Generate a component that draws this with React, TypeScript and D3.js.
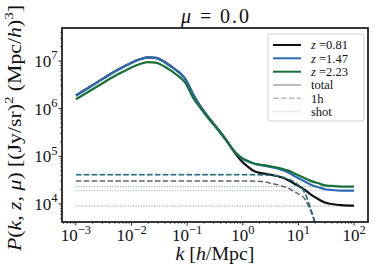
import React from 'react';
import * as d3 from 'd3';

// ---------- data ----------
const kValues = [
  1.0e-3, 1.8e-3, 3.18e-3, 5.58e-3, 9.82e-3, 1.377e-2, 1.936e-2, 2.716e-2, 3.81e-2, 5.35e-2,
  7.5e-2, 9.4e-2, 0.129, 0.166, 0.224, 0.291, 0.389, 0.512, 0.675, 0.902,
  1.183, 1.656, 2.223, 3.3, 4.91, 6.56, 8.63, 13.1, 17.0, 22.8,
  29.9, 39.5, 58.7, 100,
];

const totalZ081 = [
  1.888e6, 2.884e6, 4.365e6, 6.457e6, 9.12e6, 1.072e7, 1.189e7, 1.161e7, 9.77e6, 7.41e6,
  5.5e6, 4.07e6, 1.95e6, 1.2e6, 7.36e5, 5.01e5, 3.29e5, 2.14e5, 1.32e5, 8.51e4,
  6.31e4, 4.79e4, 4.42e4, 4.07e4, 3.63e4, 3.16e4, 2.63e4, 1.97e4, 1.55e4, 1.26e4,
  1.07e4, 1.0e4, 9.44e3, 9.23e3,
];
const totalZ147 = [
  1.888e6, 2.884e6, 4.365e6, 6.457e6, 9.12e6, 1.072e7, 1.189e7, 1.161e7, 9.77e6, 7.41e6,
  5.5e6, 4.07e6, 1.95e6, 1.2e6, 7.36e5, 5.01e5, 3.29e5, 2.14e5, 1.36e5, 9.55e4,
  7.94e4, 6.92e4, 6.46e4, 5.89e4, 5.25e4, 4.57e4, 3.8e4, 2.95e4, 2.51e4, 2.24e4,
  2.04e4, 1.97e4, 1.91e4, 1.9e4,
];
const totalZ223 = [
  1.574e6, 2.371e6, 3.548e6, 5.19e6, 7.24e6, 8.51e6, 9.44e6, 9.23e6, 7.76e6, 6.03e6,
  4.47e6, 3.39e6, 1.66e6, 1.1e6, 6.92e5, 4.79e5, 3.16e5, 2.09e5, 1.35e5, 9.77e4,
  8.13e4, 7.0e4, 6.61e4, 6.1e4, 5.56e4, 5.01e4, 4.32e4, 3.47e4, 3.02e4, 2.72e4,
  2.45e4, 2.39e4, 2.32e4, 2.31e4,
];

const oneHaloZ081 = [
  3.02e4, 3.02e4, 3.02e4, 3.02e4, 3.02e4, 3.02e4, 3.02e4, 3.02e4, 3.02e4, 3.02e4,
  3.02e4, 3.02e4, 3.02e4, 3.02e4, 3.02e4, 3.02e4, 3.02e4, 3.02e4, 3.02e4, 3.02e4,
  3.02e4, 3.0e4, 2.95e4, 2.69e4, 2.4e4, 2.14e4, 1.78e4, 1.26e4, 6.61e3, 2.4e3,
  851, 302, 76, 24,
];
const oneHaloZ147 = [
  4.12e4, 4.12e4, 4.12e4, 4.12e4, 4.12e4, 4.12e4, 4.12e4, 4.12e4, 4.12e4, 4.12e4,
  4.12e4, 4.12e4, 4.12e4, 4.12e4, 4.12e4, 4.12e4, 4.12e4, 4.12e4, 4.12e4, 4.12e4,
  4.12e4, 4.1e4, 4.07e4, 3.98e4, 3.72e4, 3.31e4, 2.82e4, 1.68e4, 7.24e3, 2.51e3,
  891, 316, 79, 25,
];
const oneHaloZ223 = [
  4.14e4, 4.14e4, 4.14e4, 4.14e4, 4.14e4, 4.14e4, 4.14e4, 4.14e4, 4.14e4, 4.14e4,
  4.14e4, 4.14e4, 4.14e4, 4.14e4, 4.14e4, 4.14e4, 4.14e4, 4.14e4, 4.14e4, 4.14e4,
  4.14e4, 4.12e4, 4.09e4, 4.0e4, 3.74e4, 3.33e4, 2.84e4, 1.69e4, 7.3e3, 2.52e3,
  895, 318, 80, 25,
];

const shotNoise = [9.08e3, 1.9e4, 2.31e4];
const redshiftLabels = ['0.81', '1.47', '2.23'];
const seriesColors = ['#111111', '#2d6cb5', '#17703a'];
const oneHaloOpacity = [0.65, 0.95, 0.5];
const componentLabels = ['total', '1h', 'shot'];
const xTickExponents = [-3, -2, -1, 0, 1, 2];
const yTickExponents = [4, 5, 6, 7];
const titleMu = '0.0';

// ---------- layout ----------
const W = 379;
const H = 277;
const L = 62;
const R = 368;
const T = 28;
const B = 222;
const FONT = "'Liberation Serif', 'DejaVu Serif', serif";

const x = d3.scaleLog().domain([10 ** -3.25, 10 ** 2.25]).range([L, R]);
const y = d3.scaleLog().domain([10 ** 3.622, 10 ** 7.692]).range([B, T]);

const line = d3
  .line<[number, number]>()
  .x((d) => x(d[0]))
  .y((d) => y(Math.max(d[1], 1e-3)))
  .curve(d3.curveMonotoneX);

const totals = [totalZ081, totalZ147, totalZ223];
const oneHalos = [oneHaloZ081, oneHaloZ147, oneHaloZ223];

function logTicks(domain: number[]) {
  const out: { v: number; major: boolean }[] = [];
  const lo = Math.floor(Math.log10(domain[0]));
  const hi = Math.ceil(Math.log10(domain[1]));
  for (let e = lo; e <= hi; e++) {
    for (let m = 1; m <= 9; m++) {
      const v = m * 10 ** e;
      if (v >= domain[0] && v <= domain[1]) out.push({ v, major: m === 1 });
    }
  }
  return out;
}

function Pow10({ x0, y0, exp, anchor }: { x0: number; y0: number; exp: number; anchor: 'middle' | 'end' }) {
  const e = exp < 0 ? '\u2212' + Math.abs(exp) : String(exp);
  return (
    <text x={x0} y={y0} textAnchor={anchor} fontFamily={FONT} fontSize={17} fill="#111">
      <tspan>10</tspan>
      <tspan dy={-7.5} fontSize={12.5}>{e}</tspan>
    </text>
  );
}

export default function App() {
  const xt = logTicks(x.domain());
  const yt = logTicks(y.domain());
  const legendY = [45, 58.3, 71.7, 85, 98.3, 111.7];
  return (
    <svg
      width={W}
      height={H}
      style={{ position: 'fixed', left: 0, top: 0, background: '#fff' }}
      xmlns="http://www.w3.org/2000/svg"
    >
      <rect x={0} y={0} width={W} height={H} fill="#fff" />
      <defs>
        <clipPath id="plotclip">
          <rect x={L} y={T} width={R - L} height={B - T} />
        </clipPath>
      </defs>

      <g clipPath="url(#plotclip)">
        {totals.map((tot, i) => {
          const c = seriesColors[i];
          const ptsT = kValues.map((k, j) => [k, tot[j]] as [number, number]);
          const ptsH = kValues.map((k, j) => [k, oneHalos[i][j]] as [number, number]);
          const ptsS: [number, number][] = [
            [kValues[0], shotNoise[i]],
            [kValues[kValues.length - 1], shotNoise[i]],
          ];
          return (
            <g key={i}>
              <path d={line(ptsT) || ''} fill="none" stroke={c} strokeWidth={2.2} />
              <path
                d={line(ptsH) || ''}
                fill="none"
                stroke={c}
                strokeWidth={1.5}
                strokeOpacity={oneHaloOpacity[i]}
                strokeDasharray="5.5,2.4"
              />
              <path
                d={line(ptsS) || ''}
                fill="none"
                stroke={c}
                strokeWidth={1.1}
                strokeOpacity={0.5}
                strokeDasharray="1,1.6"
              />
            </g>
          );
        })}
      </g>

      {/* ticks */}
      {xt.map((t, i) => (
        <line
          key={'xt' + i}
          x1={x(t.v)}
          x2={x(t.v)}
          y1={B}
          y2={B + (t.major ? 3.5 : 2)}
          stroke="#111"
          strokeWidth={t.major ? 0.9 : 0.6}
        />
      ))}
      {yt.map((t, i) => (
        <line
          key={'yt' + i}
          y1={y(t.v)}
          y2={y(t.v)}
          x1={L}
          x2={L - (t.major ? 3.5 : 2)}
          stroke="#111"
          strokeWidth={t.major ? 0.9 : 0.6}
        />
      ))}

      {/* frame */}
      <rect x={L} y={T} width={R - L} height={B - T} fill="none" stroke="#222" strokeWidth={1.8} />

      {/* tick labels */}
      {xTickExponents.map((e) => (
        <Pow10 key={'xl' + e} x0={x(10 ** e)} y0={241} exp={e} anchor="middle" />
      ))}
      {yTickExponents.map((e) => (
        <Pow10 key={'yl' + e} x0={57.5} y0={y(10 ** e) + 6} exp={e} anchor="end" />
      ))}

      {/* axis labels */}
      <text
        x={(L + R) / 2}
        y={260}
        textAnchor="middle"
        fontFamily={FONT}
        fontSize={18}
        fill="#111"
        textLength={79}
        lengthAdjust="spacingAndGlyphs"
      >
        <tspan fontStyle="italic">k</tspan>
        <tspan> [</tspan>
        <tspan fontStyle="italic">h</tspan>
        <tspan>/Mpc]</tspan>
      </text>
      <text
        transform={`translate(20.5, ${(T + B) / 2 + 3}) rotate(-90)`}
        textAnchor="middle"
        fontFamily={FONT}
        fontSize={18}
        fill="#111"
        textLength={246}
        lengthAdjust="spacingAndGlyphs"
      >
        <tspan fontStyle="italic">P</tspan>
        <tspan>(</tspan>
        <tspan fontStyle="italic">k</tspan>
        <tspan>, </tspan>
        <tspan fontStyle="italic">z</tspan>
        <tspan>, </tspan>
        <tspan fontStyle="italic">μ</tspan>
        <tspan>) [(Jy/sr)</tspan>
        <tspan dy={-7.5} fontSize={12.5}>2</tspan>
        <tspan dy={7.5}> (Mpc/</tspan>
        <tspan fontStyle="italic">h</tspan>
        <tspan>)</tspan>
        <tspan dy={-7.5} fontSize={12.5}>3</tspan>
        <tspan dy={7.5}>]</tspan>
      </text>

      {/* title */}
      <text
        x={(L + R) / 2}
        y={23}
        textAnchor="middle"
        fontFamily={FONT}
        fontSize={20}
        fill="#111"
        textLength={68}
        lengthAdjust="spacing"
      >
        <tspan fontStyle="italic">μ</tspan>
        <tspan> = {titleMu}</tspan>
      </text>

      {/* legend */}
      <rect x={268} y={34} width={96} height={87} rx={2} fill="#fff" fillOpacity={0.85} stroke="#ccc" strokeWidth={0.9} />
      {redshiftLabels.map((z, i) => (
        <g key={'lg' + i}>
          <line x1={273} x2={301} y1={legendY[i]} y2={legendY[i]} stroke={seriesColors[i]} strokeWidth={2} />
          <text x={311} y={legendY[i] + 4.2} fontFamily={FONT} fontSize={12.5} fill="#111">
            <tspan fontStyle="italic">z</tspan> ={z}
          </text>
        </g>
      ))}
      {componentLabels.map((lab, i) => (
        <g key={'lc' + i}>
          <line
            x1={273}
            x2={301}
            y1={legendY[i + 3]}
            y2={legendY[i + 3]}
            stroke="#bbb"
            strokeWidth={i === 0 ? 2 : i === 1 ? 1.5 : 1.1}
            strokeDasharray={i === 0 ? undefined : i === 1 ? '5.5,2.4' : '1,1.6'}
          />
          <text x={311} y={legendY[i + 3] + 4.2} fontFamily={FONT} fontSize={12.5} fill="#111">
            {lab}
          </text>
        </g>
      ))}
    </svg>
  );
}
